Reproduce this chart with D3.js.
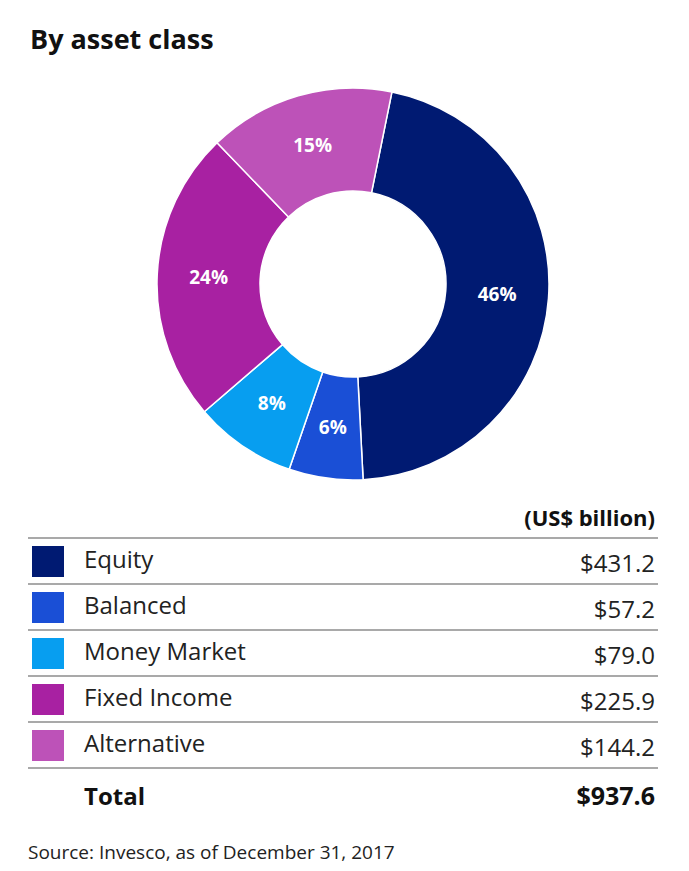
<!DOCTYPE html>
<html><head><meta charset="utf-8">
<script src="https://cdn.jsdelivr.net/npm/d3@7"></script>
<style>body{margin:0;background:#fff;font-family:"Open Sans",sans-serif}</style>
</head><body>
<svg id="c" width="689" height="871"></svg>
<script>
const categories=["Equity","Balanced","Money Market","Fixed Income","Alternative"];
const values=[431.2,57.2,79.0,225.9,144.2];
const pctLabels=["46%","6%","8%","24%","15%"];
const valueLabels=["$431.2","$57.2","$79.0","$225.9","$144.2"];
const colors=["#001a72","#1a4fd6","#079ef0","#a821a2","#bd52b8"];
const totalLabel="$937.6";

const svg=d3.select("#c");
svg.append("text").attr("x",30).attr("y",49).attr("font-size",27).attr("font-weight",700).attr("fill","#111").text("By asset class");

const cx=353,cy=284,R=196,r=93;
const pie=d3.pie().sort(null).startAngle(0.2).endAngle(0.2+2*Math.PI)(values);
const arc=d3.arc().innerRadius(r).outerRadius(R);
const g=svg.append("g").attr("transform",`translate(${cx},${cy})`);
g.selectAll("path").data(pie).join("path").attr("d",arc).attr("fill",(d,i)=>colors[i]).attr("stroke","#fff").attr("stroke-width",1.5);
const lab=d3.arc().innerRadius((r+R)/2).outerRadius((r+R)/2);
g.selectAll("text").data(pie).join("text").attr("transform",d=>`translate(${lab.centroid(d)})`)
 .attr("text-anchor","middle").attr("dy","0.35em").attr("fill","#fff").attr("font-weight",700).attr("font-size",19)
 .text((d,i)=>pctLabels[i]);

svg.append("text").attr("x",655).attr("y",526).attr("text-anchor","end").attr("font-size",22).attr("font-weight",700).attr("fill","#111").text("(US$ billion)");
const y0=538,rh=46;
for(let i=0;i<=categories.length;i++){
  svg.append("line").attr("x1",28).attr("x2",658).attr("y1",y0+i*rh).attr("y2",y0+i*rh).attr("stroke","#555").attr("stroke-width",1.2);
}
categories.forEach((c,i)=>{
  const y=y0+i*rh;
  svg.append("rect").attr("x",32).attr("y",y+8).attr("width",32).attr("height",31).attr("fill",colors[i]);
  svg.append("text").attr("x",84).attr("y",y+30).attr("font-size",24).attr("fill","#222").text(c);
  svg.append("text").attr("x",655).attr("y",y+34).attr("text-anchor","end").attr("font-size",24).attr("fill","#222").text(valueLabels[i]);
});
svg.append("text").attr("x",84).attr("y",805).attr("font-size",24).attr("font-weight",700).attr("fill","#111").text("Total");
svg.append("text").attr("x",655).attr("y",805).attr("text-anchor","end").attr("font-size",25).attr("font-weight",700).attr("fill","#111").text(totalLabel);
svg.append("text").attr("x",28).attr("y",859).attr("font-size",19).attr("fill","#222").text("Source: Invesco, as of December 31, 2017");
</script></body></html>
